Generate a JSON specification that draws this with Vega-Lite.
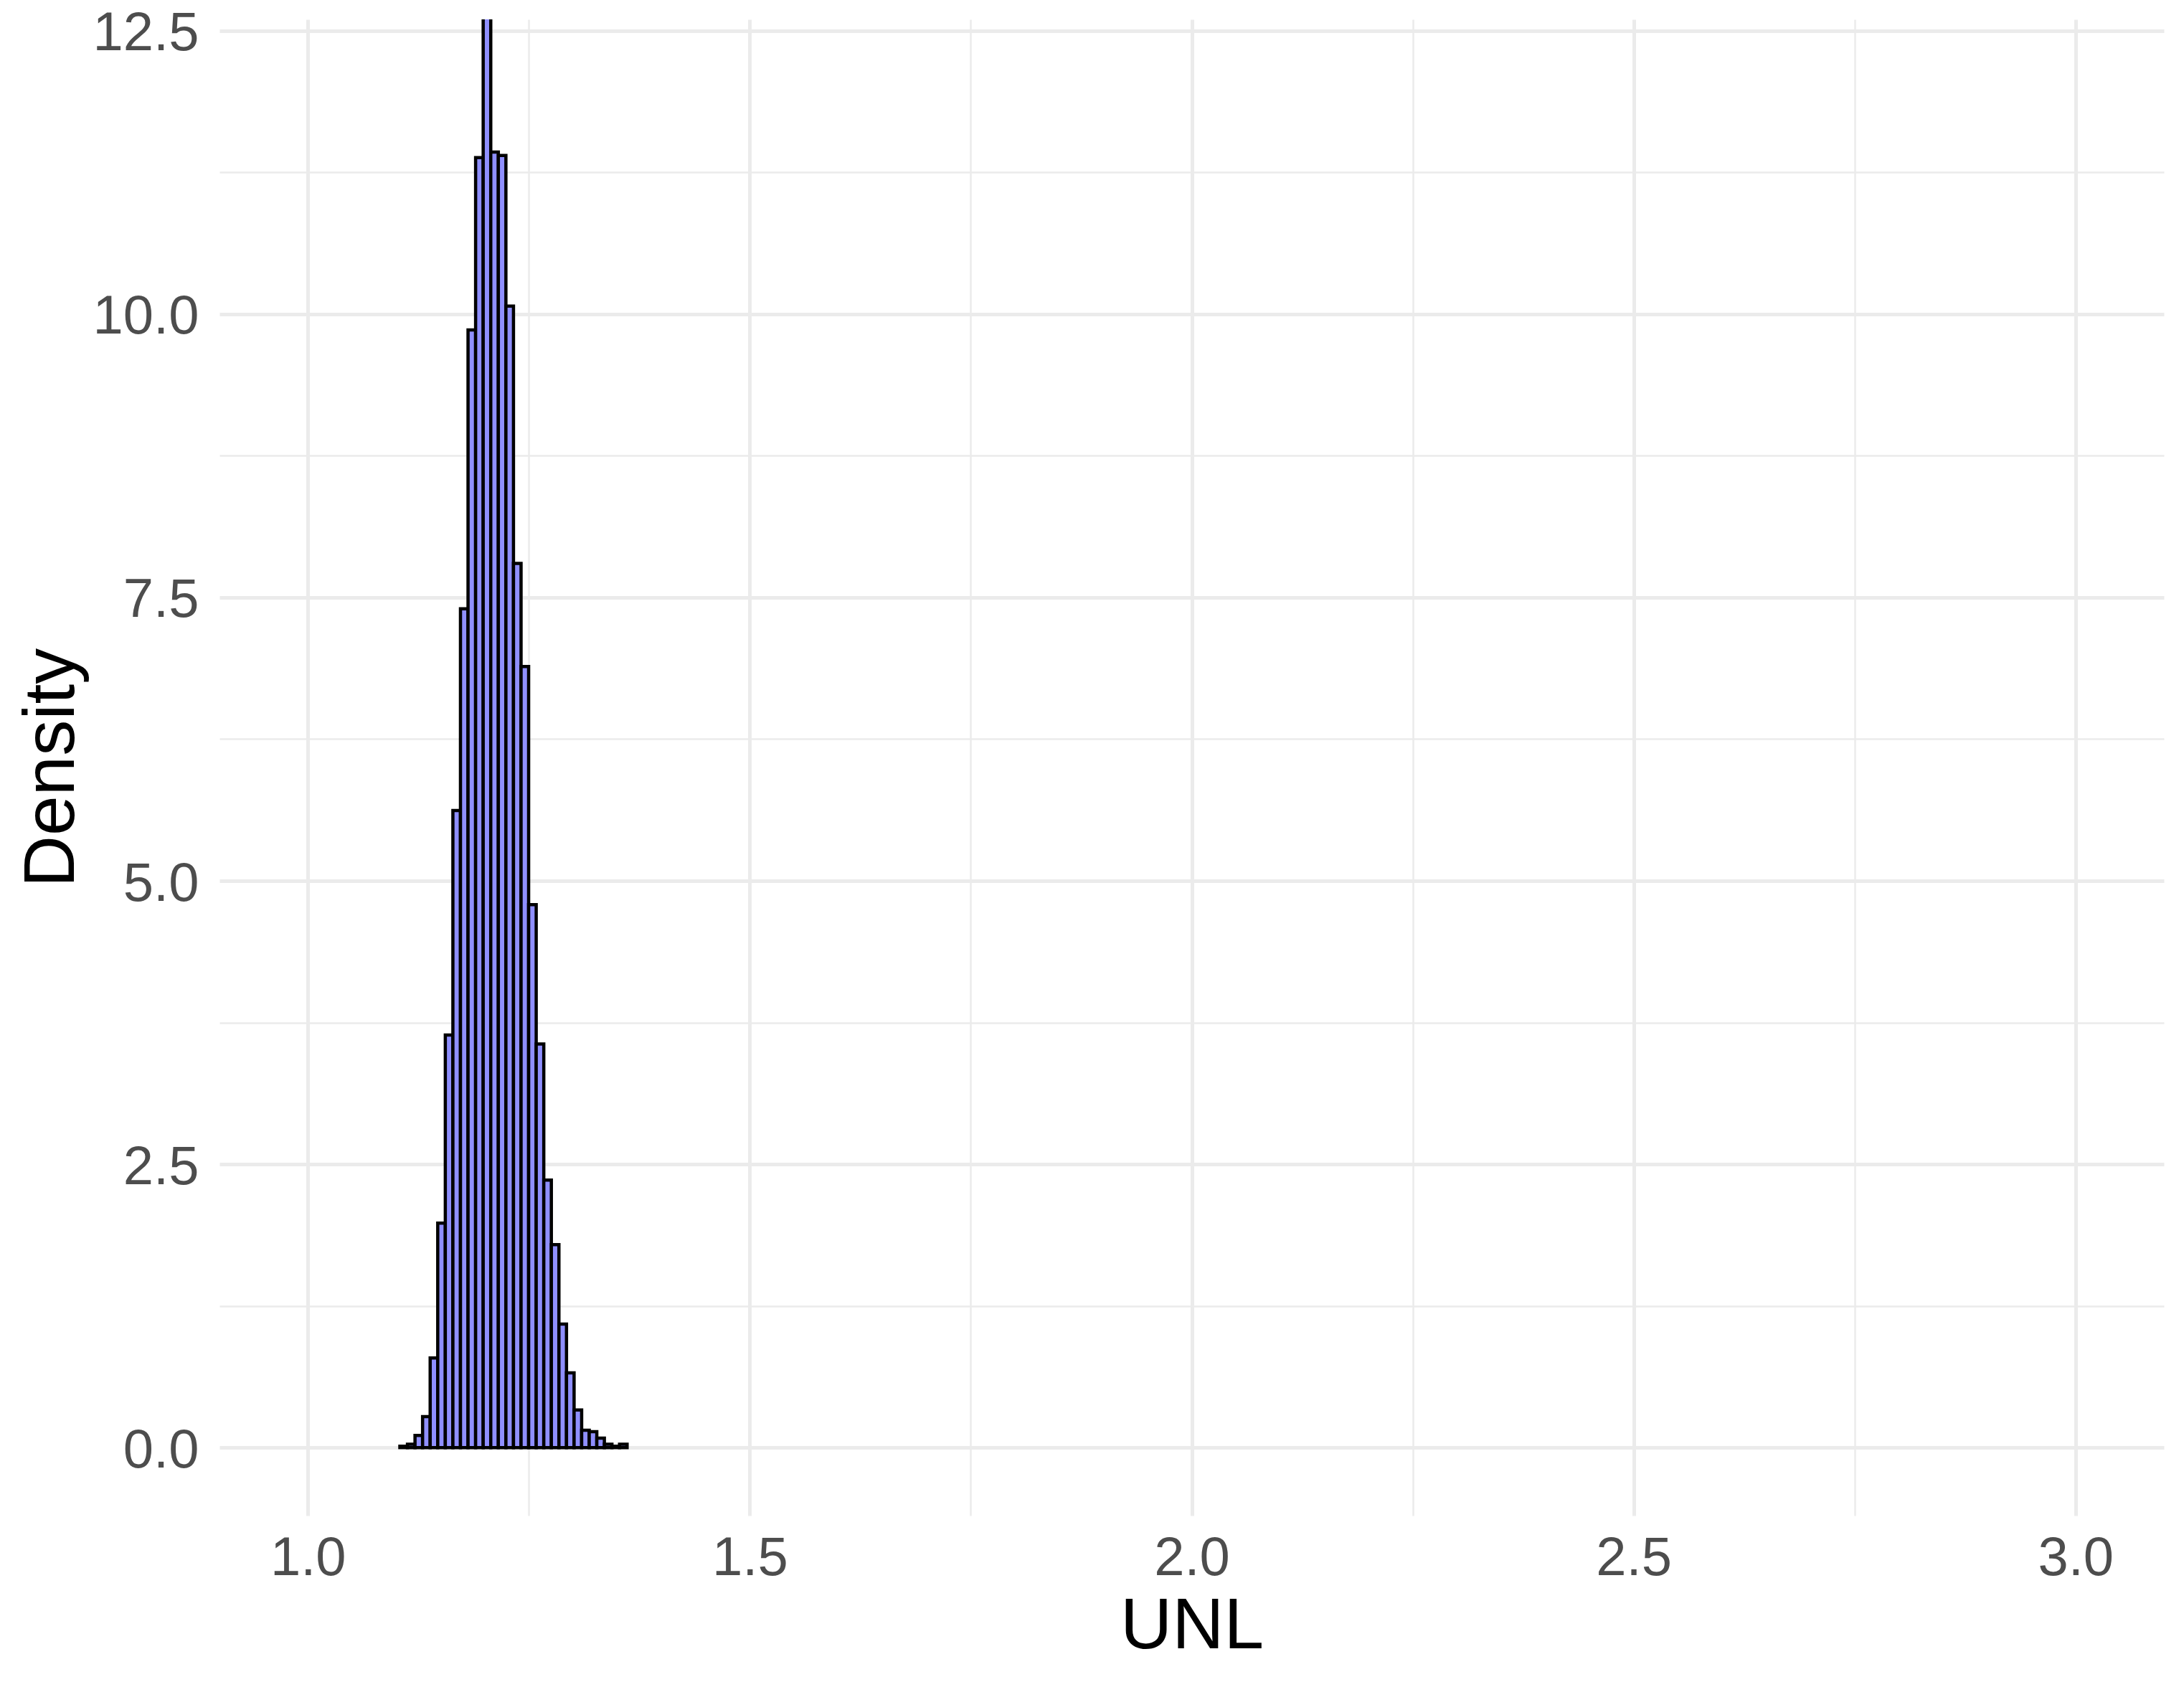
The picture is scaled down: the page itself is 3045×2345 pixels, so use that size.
{
  "$schema": "https://vega.github.io/schema/vega-lite/v6.json",
  "width": 2711,
  "height": 2086,
  "autosize": {"type": "none"},
  "padding": {"left": 306, "top": 27, "right": 28, "bottom": 232},
  "background": "white",
  "config": {"view": {"stroke": null}, "font": "Liberation Sans"},
  "data": {
    "values": [
      {"bin_start": 1.1041, "bin_end": 1.11267, "density": 0.012},
      {"bin_start": 1.11267, "bin_end": 1.12124, "density": 0.029},
      {"bin_start": 1.12124, "bin_end": 1.12981, "density": 0.107},
      {"bin_start": 1.12981, "bin_end": 1.13838, "density": 0.273},
      {"bin_start": 1.13838, "bin_end": 1.14695, "density": 0.79},
      {"bin_start": 1.14695, "bin_end": 1.15552, "density": 1.98},
      {"bin_start": 1.15552, "bin_end": 1.16409, "density": 3.64},
      {"bin_start": 1.16409, "bin_end": 1.17266, "density": 5.62},
      {"bin_start": 1.17266, "bin_end": 1.18123, "density": 7.40},
      {"bin_start": 1.18123, "bin_end": 1.1898, "density": 9.86},
      {"bin_start": 1.1898, "bin_end": 1.19837, "density": 11.38},
      {"bin_start": 1.19837, "bin_end": 1.20694, "density": 12.95},
      {"bin_start": 1.20694, "bin_end": 1.21551, "density": 11.43},
      {"bin_start": 1.21551, "bin_end": 1.22408, "density": 11.40},
      {"bin_start": 1.22408, "bin_end": 1.23265, "density": 10.07},
      {"bin_start": 1.23265, "bin_end": 1.24122, "density": 7.80},
      {"bin_start": 1.24122, "bin_end": 1.24979, "density": 6.89},
      {"bin_start": 1.24979, "bin_end": 1.25836, "density": 4.79},
      {"bin_start": 1.25836, "bin_end": 1.26693, "density": 3.56},
      {"bin_start": 1.26693, "bin_end": 1.2755, "density": 2.36},
      {"bin_start": 1.2755, "bin_end": 1.28407, "density": 1.79},
      {"bin_start": 1.28407, "bin_end": 1.29264, "density": 1.09},
      {"bin_start": 1.29264, "bin_end": 1.30121, "density": 0.66},
      {"bin_start": 1.30121, "bin_end": 1.30978, "density": 0.331},
      {"bin_start": 1.30978, "bin_end": 1.31835, "density": 0.153},
      {"bin_start": 1.31835, "bin_end": 1.32692, "density": 0.141},
      {"bin_start": 1.32692, "bin_end": 1.33549, "density": 0.084},
      {"bin_start": 1.33549, "bin_end": 1.34406, "density": 0.029},
      {"bin_start": 1.34406, "bin_end": 1.35263, "density": 0.012},
      {"bin_start": 1.35263, "bin_end": 1.3612, "density": 0.029}
    ]
  },
  "mark": {"type": "bar", "fill": "#8F8FFF", "stroke": "black", "strokeWidth": 4.5, "clip": true},
  "encoding": {
    "x": {
      "field": "bin_start",
      "type": "quantitative",
      "scale": {"domain": [0.9, 3.1], "nice": false, "zero": false},
      "axis": {
        "title": "UNL",
        "values": [1, 1.25, 1.5, 1.75, 2, 2.25, 2.5, 2.75, 3],
        "labelExpr": "datum.value % 0.5 === 0 ? format(datum.value, '.1f') : ''",
        "grid": true,
        "gridColor": "#EBEBEB",
        "gridWidth": {"condition": {"test": "datum.value % 0.5 === 0", "value": 5}, "value": 2.5},
        "domain": false,
        "ticks": false,
        "labelFlush": false,
        "labelOverlap": false,
        "labelFont": "Liberation Sans",
        "labelFontSize": 76,
        "labelColor": "#4D4D4D",
        "labelPadding": 22,
        "titleFont": "Liberation Sans",
        "titleFontSize": 100,
        "titleFontWeight": "normal",
        "titleColor": "black",
        "titlePadding": 8
      }
    },
    "x2": {"field": "bin_end"},
    "y": {
      "field": "density",
      "type": "quantitative",
      "scale": {"domain": [-0.6, 12.6], "nice": false},
      "axis": {
        "title": "Density",
        "values": [0, 1.25, 2.5, 3.75, 5, 6.25, 7.5, 8.75, 10, 11.25, 12.5],
        "labelExpr": "datum.value % 2.5 === 0 ? format(datum.value, '.1f') : ''",
        "grid": true,
        "gridColor": "#EBEBEB",
        "gridWidth": {"condition": {"test": "datum.value % 2.5 === 0", "value": 5}, "value": 2.5},
        "domain": false,
        "ticks": false,
        "labelFlush": false,
        "labelOverlap": false,
        "labelOffset": 4,
        "labelFont": "Liberation Sans",
        "labelFontSize": 76,
        "labelColor": "#4D4D4D",
        "labelPadding": 29,
        "titleFont": "Liberation Sans",
        "titleFontSize": 100,
        "titleFontWeight": "normal",
        "titleColor": "black",
        "titlePadding": 6
      }
    },
    "y2": {"datum": 0}
  }
}
